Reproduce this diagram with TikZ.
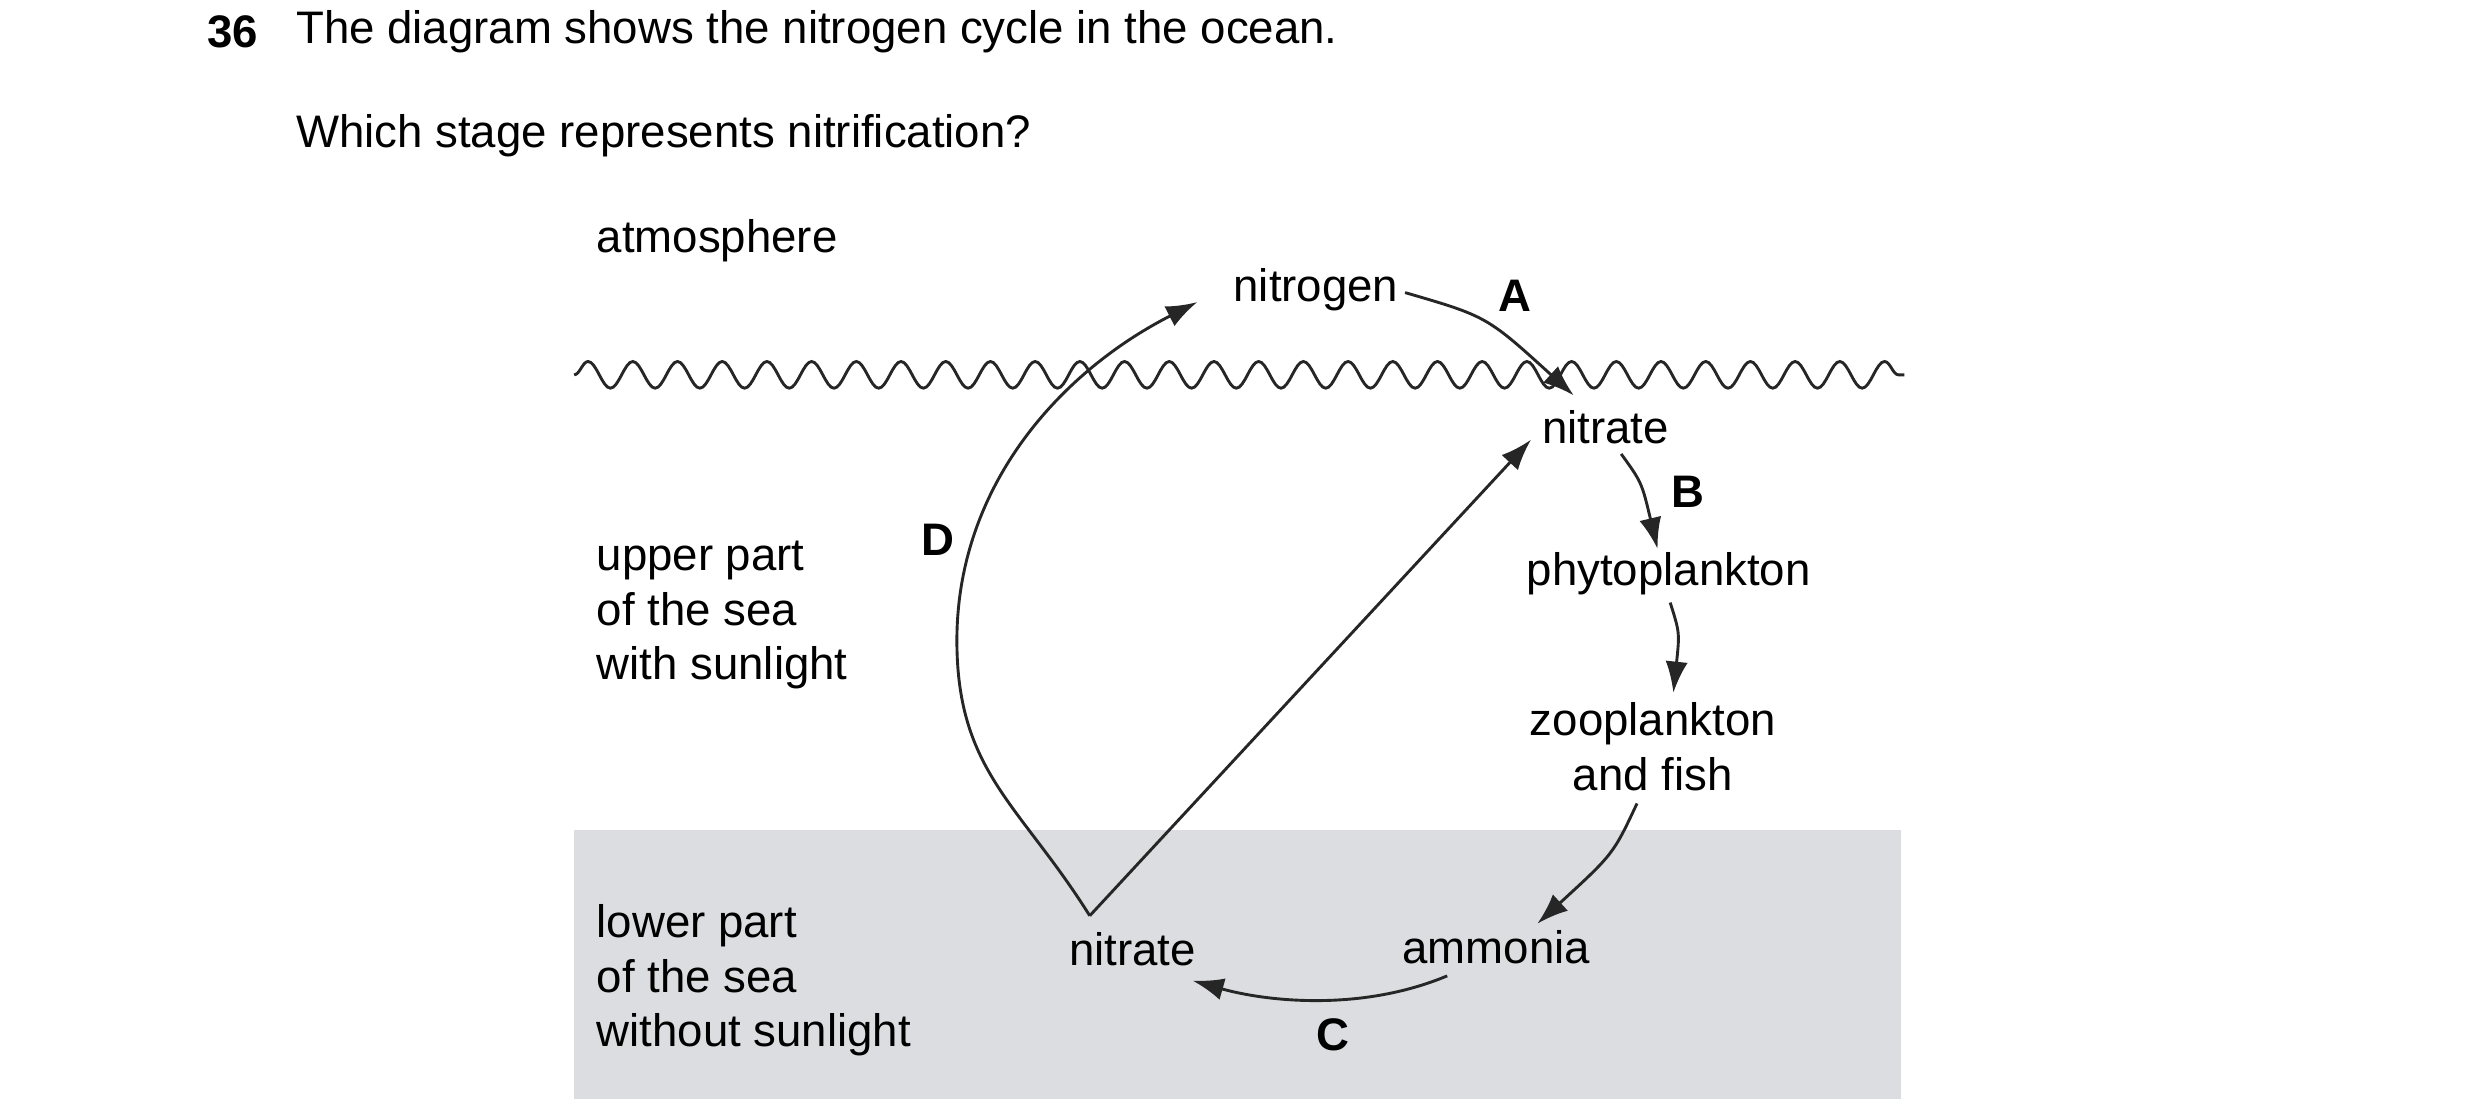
\documentclass[tikz,border=0pt]{standalone}
\usepackage{fontspec}
\setmainfont{Liberation Sans}
\usetikzlibrary{arrows.meta,decorations.pathmorphing}
\definecolor{sea}{RGB}{220,221,224}
\begin{document}
\begin{tikzpicture}[x=0.025cm,y=-0.025cm,
  every node/.style={font=\fontsize{20.5pt}{24pt}\selectfont, inner sep=0pt},
  lab/.style={anchor=west, align=left, font=\fontsize{20.5pt}{24.5pt}\selectfont},
  bl/.style={font=\fontsize{20.5pt}{24pt}\selectfont\bfseries},
  arr/.style={line width=1.3pt, color=black!85, -{Latex[length=14pt,width=10pt]}},
  ln/.style={line width=1.3pt, color=black!85}]
\useasboundingbox (0,0) rectangle (1568,695);
\fill[sea] (363,525) rectangle (1202,695);
\node[bl, anchor=west] (q) at (131,20) {36};
\node[anchor=west] (t1) at (187,20) {The diagram shows the nitrogen cycle in the ocean.};
\node[anchor=west] (t2) at (187,86) {Which stage represents nitrification?};
\node[lab] (atm) at (377,152) {atmosphere};
\node[lab] (up) at (377,389) {upper part\\of the sea\\with sunlight};
\node[lab] (lo) at (377,620) {lower part\\of the sea\\without sunlight};
\draw[ln, decorate, decoration={snake, segment length=20.1, amplitude=6}] (363,237) -- (1204,237);
\node (n2) at (832,183) {nitrogen};
\node (nt) at (1015,270) {nitrate};
\node (ph) at (1055,363) {phytoplankton};
\node[align=center, font=\fontsize{20.5pt}{24.5pt}\selectfont] (zo) at (1045,472) {zooplankton\\and fish};
\node (am) at (946,599) {ammonia};
\node (nl) at (716,600) {nitrate};
\node[bl] (A) at (958,187) {A};
\node[bl] (B) at (1067,311) {B};
\node[bl] (C) at (843,654) {C};
\node[bl] (D) at (593,341) {D};
\coordinate (v) at (689,579);
\draw[arr] (n2.east) ++(4,2) .. controls (940,200) .. (995,250);
\draw[arr] (1025,287) .. controls (1038,305) .. (1048,347);
\draw[arr] (1056,381) .. controls (1062,400) .. (1058,438);
\draw[arr] (1035,508) .. controls (1020,540) .. (972,584);
\draw[arr] (915,617) .. controls (860,640) and (800,633) .. (754,620);
\draw[arr] (v) to[out=122,in=-90,looseness=1.1] (605,405) to[out=90,in=207,looseness=0.95] (757,191);
\draw[arr] (v) -- (968,278);
\end{tikzpicture}
\end{document}
